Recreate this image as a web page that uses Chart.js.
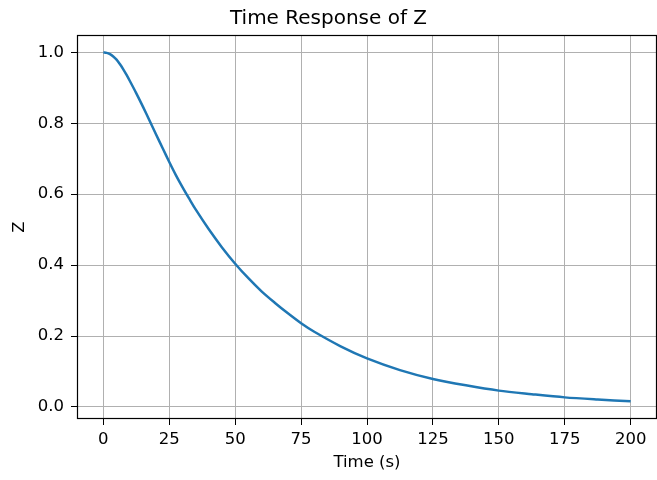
<!DOCTYPE html>
<html>
<head>
<meta charset="utf-8">
<script src="https://cdn.jsdelivr.net/npm/chart.js@4.4.0/dist/chart.umd.min.js"></script>
<style>
  body { margin: 0; background: #fff; }
</style>
</head>
<body>
<canvas id="zChart" width="657" height="480"></canvas>
<script>
// values
const timeS = [0, 1.25, 2.5, 3.75, 5, 6.25, 7.5, 8.75, 10, 12.5, 15, 17.5, 20, 22.5, 25, 27.5, 30, 32.5, 35, 40, 45, 50, 55, 60, 65, 70, 75, 80, 90, 100, 112.5, 125, 137.5, 150, 162.5, 175, 187.5, 200];
const zValues = [1.000, 0.9987, 0.995, 0.9885, 0.9795, 0.967, 0.953, 0.937, 0.920, 0.8845, 0.847, 0.808, 0.7685, 0.7295, 0.691, 0.654, 0.620, 0.588, 0.557, 0.501, 0.450, 0.404, 0.363, 0.326, 0.294, 0.264, 0.236, 0.212, 0.171, 0.137, 0.104, 0.079, 0.061, 0.046, 0.036, 0.027, 0.021, 0.016];
const xTicks = [0, 25, 50, 75, 100, 125, 150, 175, 200];
const yTicks = [0.0, 0.2, 0.4, 0.6, 0.8, 1.0];

const points = timeS.map((t, i) => ({ x: t, y: zValues[i] }));

// matplotlib-like full box around the axes
const boxBorder = {
    id: 'boxBorder',
    afterDraw(chart) {
        const a = chart.chartArea;
        const ctx = chart.ctx;
        ctx.save();
        ctx.strokeStyle = '#000';
        ctx.lineWidth = 1.2;
        ctx.strokeRect(a.left + 0.5, a.top + 0.5, a.right - a.left - 1, a.bottom - a.top - 1);
        ctx.restore();
    }
};

const font = { family: 'DejaVu Sans', size: 16.5 };

const zChart = new Chart(document.getElementById('zChart'), {
    type: 'line',
    data: {
        datasets: [{
            label: 'Z',
            data: points,
            borderColor: '#1f77b4',
            borderWidth: 2.5,
            pointRadius: 0,
            tension: 0.3,
            fill: false
        }]
    },
    options: {
        responsive: false,
        animation: false,
        layout: { padding: 0 },
        scales: {
            x: {
                type: 'linear',
                min: -10,
                max: 210,
                afterBuildTicks: (s) => { s.ticks = xTicks.map(v => ({ value: v })); },
                afterFit: (s) => { s.height = 61; },
                grid: { color: '#b0b0b0', lineWidth: 1, tickColor: '#000', tickLength: 6 },
                border: { display: false },
                ticks: { color: '#000', font: font, padding: 5, maxRotation: 0 },
                title: { display: true, text: 'Time (s)', color: '#000', font: font, padding: { top: 0, bottom: 7 } }
            },
            y: {
                type: 'linear',
                min: -0.034,
                max: 1.049,
                afterBuildTicks: (s) => { s.ticks = yTicks.map(v => ({ value: v })); },
                afterFit: (s) => { s.width = 77; },
                grid: { color: '#b0b0b0', lineWidth: 1, tickColor: '#000', tickLength: 6 },
                border: { display: false },
                ticks: { color: '#000', font: font, padding: 7, callback: (v) => v.toFixed(1) },
                title: { display: true, text: 'Z', color: '#000', font: font, padding: { top: 10, bottom: 0 } }
            }
        },
        plugins: {
            legend: { display: false },
            tooltip: { enabled: false },
            title: {
                display: true,
                text: 'Time Response of Z',
                color: '#000',
                font: { family: 'DejaVu Sans', size: 20, weight: 'normal' },
                padding: { top: 6.5, bottom: 4.5 }
            }
        }
    },
    plugins: [boxBorder]
});
</script>
</body>
</html>
